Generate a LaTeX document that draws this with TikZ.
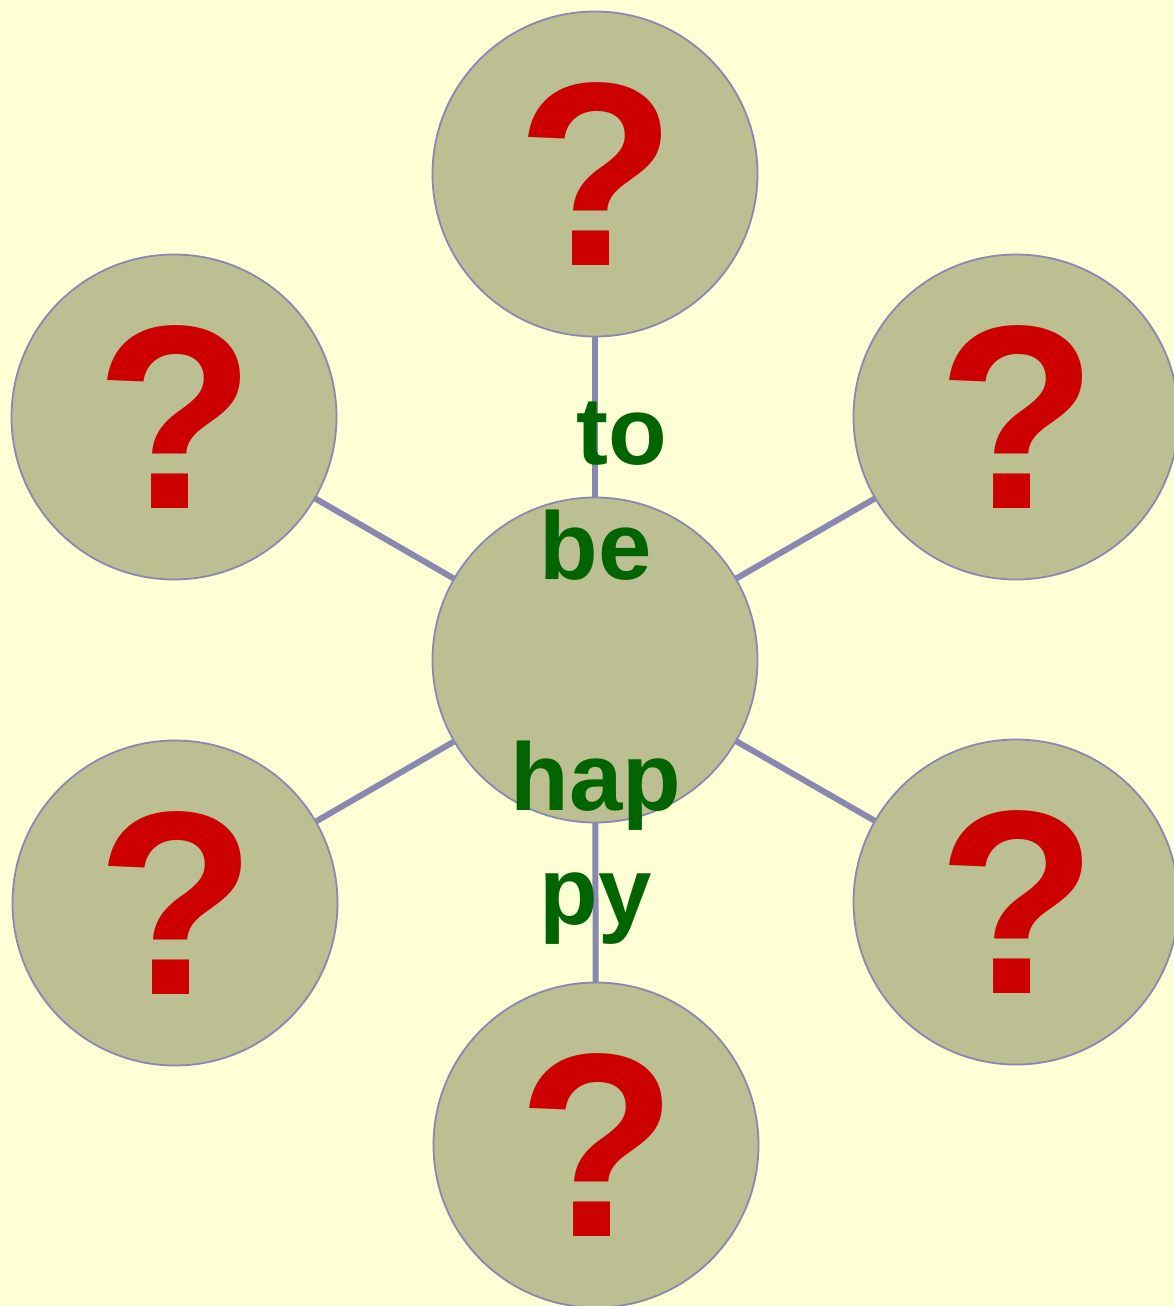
\documentclass[tikz,border=0pt]{standalone}
\usepackage{fontspec}
\setmainfont{Liberation Sans}
\definecolor{bg}{RGB}{255,255,213}
\definecolor{cfill}{RGB}{187,191,145}
\definecolor{cline}{RGB}{136,136,176}
\definecolor{qred}{RGB}{204,0,0}
\definecolor{wgreen}{RGB}{0,100,0}
\begin{document}
\begin{tikzpicture}[x=1pt,y=-1pt,
  bubble/.style={circle,minimum size=325pt,inner sep=0pt,fill=cfill,draw=cline,line width=1.8pt},
  qmark/.style={text=qred,font=\fontsize{262}{270}\selectfont\bfseries,inner sep=0pt,xshift=2pt},
  word/.style={text=wgreen,font=\fontsize{96}{115}\selectfont\bfseries,inner sep=0pt,anchor=base},
  spoke/.style={draw=cline,line width=6pt}]
\fill[bg] (0,0) rectangle (1173,1306);
\useasboundingbox (0,0) rectangle (1173,1306);
\coordinate (c0) at (595,660);
\coordinate (p1) at (595,174);
\coordinate (p2) at (1016,417);
\coordinate (p3) at (1016,902);
\coordinate (p4) at (596,1145);
\coordinate (p5) at (175,903);
\coordinate (p6) at (174,417);
\foreach \i in {1,...,6} \draw[spoke] (c0) -- (p\i);
\node[bubble] (center) at (c0) {};
\foreach \i in {1,...,6} {
  \node[bubble] (b\i) at (p\i) {};
  \node[qmark] (q\i) at (p\i) {?};
}
\node[word] (w1) at (622,464) {to};
\node[word] (w2) at (596,579) {be};
\node[word] (w3) at (596,810) {hap};
\node[word] (w4) at (596,924) {py};
\end{tikzpicture}
\end{document}
